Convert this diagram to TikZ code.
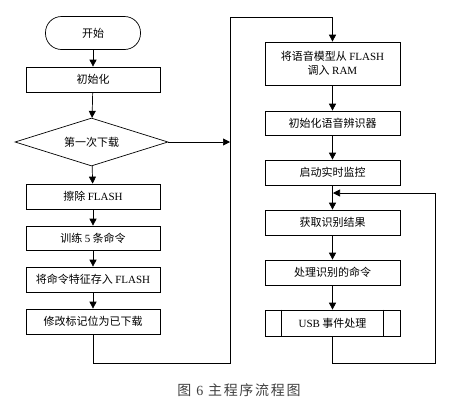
\documentclass[tikz,border=0pt]{standalone}
\usepackage{fontspec}
\setmainfont{Noto Sans CJK SC}
\newfontfamily\en{Liberation Serif}
\usetikzlibrary{arrows.meta, shapes.geometric}

\begin{document}
\begin{tikzpicture}[x=1pt, y=-1pt, >={Triangle[width=7pt,length=7pt]},
  box/.style={draw, line width=0.7pt, minimum width=134pt, minimum height=25pt,
    inner sep=1pt, align=center, font=\fontsize{11}{14}\selectfont},
  arr/.style={->, line width=0.7pt}]

\useasboundingbox (0,0) rectangle (465,405);

% left column: start, init, test and first-download steps
\node[box, rounded corners=16pt, minimum width=95pt, minimum height=33pt] (start) at (93,33) {开始};
\node[box] (init) at (93,79.5) {初始化};
\node[draw, diamond, aspect=3.2, line width=0.7pt, minimum width=153pt, minimum height=48pt,
  inner sep=0pt, font=\fontsize{11}{14}\selectfont] (first) at (91.5,142) {第一次下载};
\node[box] (erase) at (93,196.5) {擦除 {\en FLASH}};
\node[box, minimum height=24pt] (train) at (93,238) {训练 {\en 5} 条命令};
\node[box] (store) at (93,279.5) {将命令特征存入 {\en FLASH}};
\node[box] (flag) at (93,321.5) {修改标记位为已下载};

% right column: load model, recognise, handle commands
\node[box, minimum width=135pt, minimum height=43pt] (load) at (332.5,63.5) {将语音模型从 {\en FLASH}\\调入 {\en RAM}};
\node[box, minimum width=135pt, minimum height=24pt] (rec) at (332.5,123) {初始化语音辨识器};
\node[box, minimum width=135pt] (mon) at (332.5,172.5) {启动实时监控};
\node[box, minimum width=135pt] (get) at (332.5,222.5) {获取识别结果};
\node[box, minimum width=135pt] (cmd) at (332.5,272.5) {处理识别的命令};
\node[box, minimum width=135pt, minimum height=26pt] (usb) at (332.5,323) {{\en USB} 事件处理};
\draw[line width=0.7pt] ([xshift=17pt]usb.north west) -- ([xshift=17pt]usb.south west);
\draw[line width=0.7pt] ([xshift=-17pt]usb.north east) -- ([xshift=-17pt]usb.south east);

% junction points of the two loops
\coordinate (bl) at (230,363);
\coordinate (tl) at (230,17);
\coordinate (br) at (435,363);
\coordinate (jr) at (333,193);

% connectors
\draw[arr] (start) -- (init);
\draw[arr] (init) -- (first);
\draw[arr] (first) -- (erase);
\draw[arr] (erase) -- (train);
\draw[arr] (train) -- (store);
\draw[arr] (store) -- (flag);
\draw[arr] (first.east) -- (first.east -| bl);
\draw[arr] (flag.south) |- (bl) -- (tl) -| (load.north);

\draw[arr] (load) -- (rec);
\draw[arr] (rec) -- (mon);
\draw[arr] (mon) -- (get);
\draw[arr] (get) -- (cmd);
\draw[arr] (cmd) -- (usb);
\draw[arr] (usb.south) |- (br) |- (jr);

% caption
\node[text=black!75, font=\fontsize{14}{16}\selectfont\addfontfeature{LetterSpace=12}] (cap) at (239,390) {图 {\en 6} 主程序流程图};

\end{tikzpicture}
\end{document}
